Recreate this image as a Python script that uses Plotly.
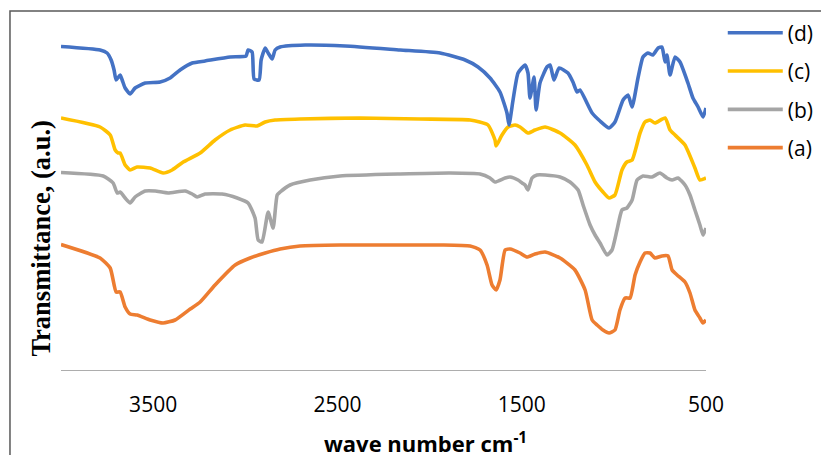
import plotly.graph_objects as go

# wavenumbers (cm-1) and transmittance (a.u., offset per curve)
wn_a = [4000,3788,3733,3701,3679,3652,3625,3587,3516,3446,3381,3299,3245,3164,3055,2974,2892,2811,2703,2486,
        2269,1943,1780,1726,1688,1661,1639,1618,1590,1563,1509,1471,1428,1373,1292,1211,1156,1118,1091,1059,
        1026,994,967,939,912,885,858,831,804,777,739,706,684,657,614,587,560,533,516,500]
t_a = [125.5,112,102,78,78,63,56,55,50,47,50,61,68,85,105,112,117,121,124,125,
       125,125,124,120,105,85,80,90,120,121,117,113,116,118,112,100,80,50,45,40,
       37,40,60,72,72,95,108,117,117,112,114,114,100,95,88,77,60,52,47,50]

wn_b = [4000,3771,3717,3695,3679,3652,3625,3598,3543,3489,3419,3326,3288,3261,3218,3126,3044,2985,2947,2930,
        2909,2876,2849,2827,2811,2757,2648,2486,2160,1889,1726,1672,1645,1590,1563,1520,1498,1482,1466,1444,
        1417,1373,1292,1238,1194,1167,1129,1102,1075,1037,1010,983,956,929,901,874,842,793,750,712,
        684,652,614,587,560,533,516,500]
t_b = [197.5,194,187,177,178,172,167,173,179,179,177,179,176,173,176,176,172,167,152,130,
       128,158,142,175,178,185,190,194,196,197,196,192,188,192,193,190,187,185,180,192,
       195,195,193,188,180,165,145,135,127,115,120,140,160,162,170,190,194,193,197,192,
       190,192,185,175,160,145,135,142]

wn_c = [4000,3788,3733,3706,3690,3679,3652,3625,3587,3516,3446,3397,3337,3245,3164,3082,3001,2936,2892,2838,
        2703,2377,2052,1780,1683,1645,1639,1607,1574,1536,1509,1466,1428,1373,1292,1211,1146,1102,1059,1026,
        994,956,929,901,858,831,804,777,722,695,668,614,560,533,500]
t_c = [252,243,235,220,217,217,205,200,203,202,197,200,208,217,230,240,245,244,248,250,
       251,252,251,250,245,230,224,235,243,245,243,237,240,243,237,225,205,188,178,172,
       175,200,208,210,237,248,250,247,252,240,235,225,202,190,192]

wn_d = [4000,3788,3750,3728,3712,3701,3679,3668,3652,3625,3598,3543,3462,3408,3354,3288,3218,3082,2996,2985,
        2963,2952,2925,2914,2892,2876,2854,2838,2811,2675,2458,2160,1943,1807,1737,1672,1618,1580,1569,1547,
        1520,1482,1466,1455,1433,1422,1401,1363,1346,1325,1297,1249,1222,1200,1184,1118,1075,1026,994,950,
        923,901,869,842,815,788,760,739,722,712,695,668,641,598,571,543,516,500]
t_d = [323.5,320,317,310,300,290,295,290,282,276,282,287,288,292,300,307,309,313,314,320,
       318,291,290,310,322,317,311,320,323,325,324,320,317,310,303,292,278,257,245,270,
       297,305,297,272,293,260,287,303,305,290,302,297,288,278,280,257,249,242,248,270,
       275,263,292,313,317,315,322,323,308,315,295,313,308,287,272,263,253,262]

names = ["(a)", "(b)", "(c)", "(d)"]
colors = ["#ED7D31", "#A5A5A5", "#FFC000", "#4472C4"]
ranks = [4, 3, 2, 1]
series = [(wn_a, t_a), (wn_b, t_b), (wn_c, t_c), (wn_d, t_d)]

tick_vals = [3500, 2500, 1500, 500]
tick_text = ["3500", "2500", "1500", "500"]

fig = go.Figure()
for (x, y), n, c, r in zip(series, names, colors, ranks):
    fig.add_trace(go.Scatter(x=x, y=y, name=n, mode="lines", legendgroup=n, legendrank=r,
                             line=dict(color=c, width=3.6, shape="spline", smoothing=0.5)))

fig.update_layout(
    width=821, height=447,
    margin=dict(l=53, r=123, t=3, b=85),
    paper_bgcolor="white", plot_bgcolor="white",
    showlegend=True,
    legend=dict(x=1.026, y=0.9956, xanchor="left", yanchor="top",
                traceorder="grouped", tracegroupgap=8,
                itemwidth=55,
                font=dict(family="Open Sans", size=21, color="#000000"),
                bgcolor="rgba(0,0,0,0)"),
    xaxis=dict(range=[4000, 500], tickvals=tick_vals, ticktext=tick_text,
               showgrid=False, zeroline=False, showline=True, linecolor="#ADADAD", linewidth=1.3,
               ticks="", ticklabelstandoff=16,
               tickfont=dict(family="Open Sans", size=21, color="#000000")),
    yaxis=dict(range=[0, 359], visible=False, showgrid=False),
    annotations=[
        dict(text="<b>Transmittance, (a.u.)</b>", textangle=-90, xref="paper", yref="paper",
             x=-0.031, y=0.366, xanchor="center", yanchor="middle", showarrow=False,
             font=dict(family="Liberation Serif", size=26.5, color="#000000")),
        dict(text="<b>wave number cm<sup>-1</sup></b>", xref="paper", yref="paper",
             x=0.5645, y=-0.2006, xanchor="center", yanchor="middle", showarrow=False,
             font=dict(family="Open Sans", size=22, color="#000000")),
    ],
    shapes=[dict(type="rect", xref="paper", yref="paper", x0=-0.0791, x1=1.4, y0=-0.5, y1=1.0,
                 line=dict(color="#595959", width=1.5), layer="below")],
)

fig.write_html("out.html")
